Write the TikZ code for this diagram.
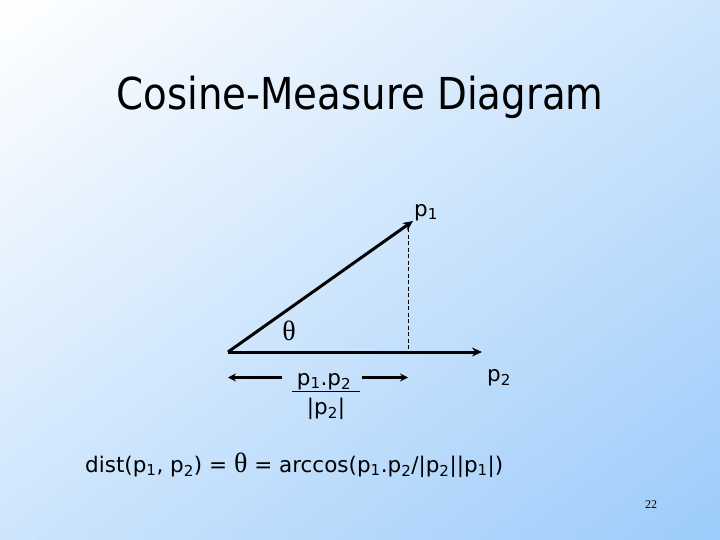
\documentclass[tikz,border=0pt]{standalone}
\usepackage{fontspec}
\setmainfont{DejaVu Sans}
\newfontfamily\titlefont{DejaVu Sans}[FakeStretch=0.88]
\newfontfamily\thetafont{Liberation Serif}
\newfontfamily\numfont{Liberation Serif}
\usetikzlibrary{arrows.meta}
\definecolor{bgblue}{RGB}{156,203,250}
\tikzset{
  vec/.style={line width=3pt,-{Stealth[length=10pt,width=9pt]}},
  dim/.style={line width=3pt,-{Stealth[length=8pt,width=8pt]}},
  lbl/.style={font=\fontsize{21.5}{24}\selectfont,inner sep=0pt},
}
\begin{document}
\begin{tikzpicture}[x=1pt,y=-1pt]
\begin{scope}
\clip (0,0) rectangle (720,540);
\foreach \i in {0,...,79}{
  \pgfmathsetmacro{\pct}{100*(\i+0.5)/80}
  \pgfmathsetmacro{\a}{2*\i/80}
  \pgfmathsetmacro{\b}{2*(\i+1)/80+0.004}
  \fill[bgblue!\pct!white] ({720*(\a+0.1)},{-54}) -- ({720*(\b+0.1)},{-54}) -- ({720*(\b-1.1)},{594}) -- ({720*(\a-1.1)},{594}) -- cycle;
}
\end{scope}
\useasboundingbox (0,0) rectangle (720,540);
\node[inner sep=0pt,anchor=base,font=\titlefont\fontsize{44}{50}\selectfont] (title) at (360,110) {Cosine-Measure Diagram};
\coordinate (o) at (228,352);
\coordinate (p1tip) at (413,221);
\coordinate (foot) at (408,352);
\coordinate (p2tip) at (482,352);
\draw[vec] (o) -- (p1tip);
\draw[vec] (o) -- (p2tip);
\draw[line width=0.8pt,dash pattern=on 4pt off 2.5pt] (408,228) -- (foot);
\node[lbl,anchor=base west] (lp1) at (414,216) {p\textsubscript{1}};
\node[lbl,anchor=base west] (lp2) at (487,381) {p\textsubscript{2}};
\node[inner sep=0pt,anchor=base,font=\thetafont\fontsize{28}{30}\selectfont] (theta) at (289,340) {θ};
\node[lbl,anchor=base] (num) at (324,385) {p\textsubscript{1}.p\textsubscript{2}};
\node[lbl,anchor=base] (den) at (326,414) {|p\textsubscript{2}|};
\draw[line width=1pt] (292,391) -- (360,391);
\coordinate (la) at (282,377.5);
\coordinate (lb) at (228,377.5);
\coordinate (ra) at (362,377.5);
\coordinate (rb) at (408,377.5);
\draw[dim] (la) -- (lb);
\draw[dim] (ra) -- (rb);
\node[lbl,anchor=base west] (dist) at (85,472) {dist(p\textsubscript{1}, p\textsubscript{2}) = {\thetafont\fontsize{28}{30}\selectfont θ} = arccos(p\textsubscript{1}.p\textsubscript{2}/|p\textsubscript{2}||p\textsubscript{1}|)};
\node[inner sep=0pt,anchor=base,font=\numfont\fontsize{12}{14}\selectfont] (pg) at (651,508) {22};
\end{tikzpicture}
\end{document}
